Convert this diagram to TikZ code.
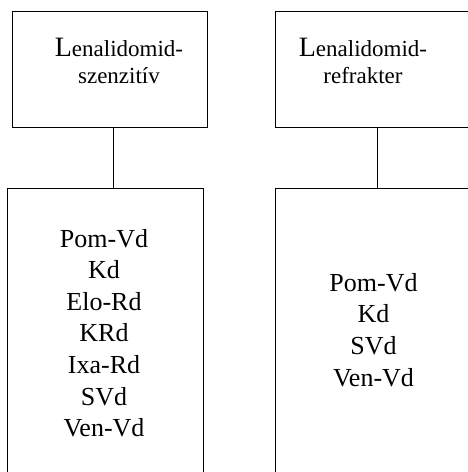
\documentclass[tikz,border=0pt]{standalone}
\usepackage{fontspec}
\setmainfont{Liberation Serif}
\begin{document}
\begin{tikzpicture}[x=1pt,y=1pt,
  box/.style={draw,line width=1pt,rectangle,inner sep=0pt},
  head/.style={font=\fontsize{23}{27.6}\selectfont,align=center,inner sep=0pt},
  list/.style={font=\fontsize{26}{31.6}\selectfont,align=center,inner sep=0pt},
  conn/.style={line width=1pt}]
\useasboundingbox (0,0) rectangle (468,472);
\clip (0,0) rectangle (468,472);
% boxes
\node[box,minimum width=195pt,minimum height=116pt] (tl) at (109.5,402) {};
\node[box,minimum width=205pt,minimum height=116pt] (tr) at (377.5,402) {};
\node[box,minimum width=196pt,minimum height=303pt] (bl) at (105,131.5) {};
\node[box,minimum width=210pt,minimum height=303pt] (br) at (380,131.5) {};
% texts
\node[head] (t1) at (119,411) {{\fontsize{28}{27.6}\selectfont L}enalidomid-\\szenzitív};
\node[head] (t2) at (363,411) {{\fontsize{28}{27.6}\selectfont L}enalidomid-\\refrakter};
\node[list] (l1) at (104,138.9) {Pom-Vd\\Kd\\Elo-Rd\\KRd\\Ixa-Rd\\SVd\\Ven-Vd};
\node[list] (l2) at (373.5,142.2) {Pom-Vd\\Kd\\SVd\\Ven-Vd};
% connectors
\coordinate (c1) at (113,0);
\draw[conn] (tl.south -| c1) -- (bl.north -| c1);
\draw[conn] (tr.south) -- (tr.south |- br.north);
\end{tikzpicture}
\end{document}
